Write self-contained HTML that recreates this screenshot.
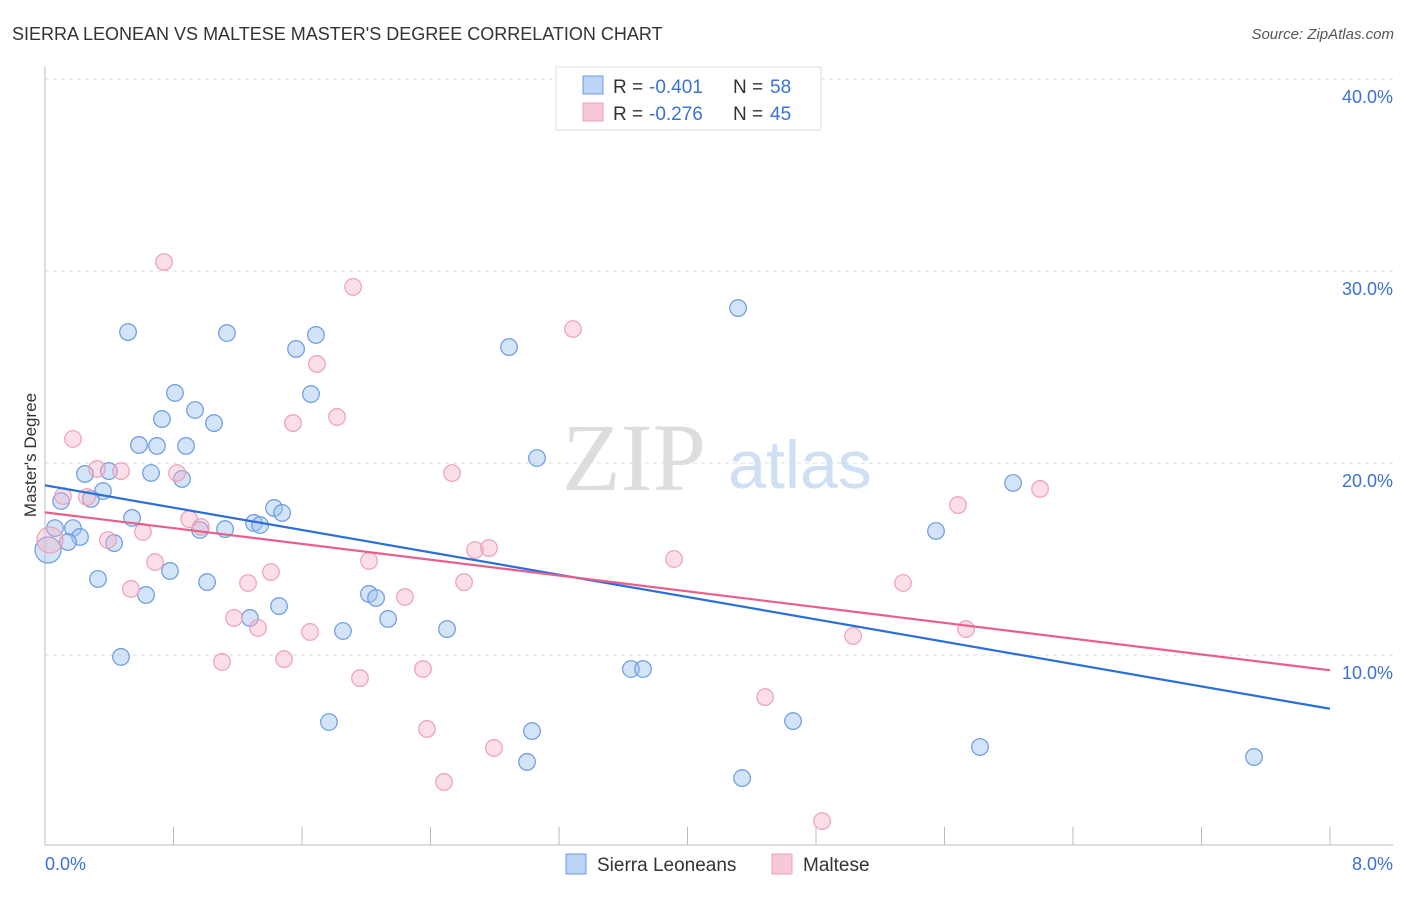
<!DOCTYPE html>
<html><head><meta charset="utf-8"><style>
body{margin:0;background:#fff;font-family:"Liberation Sans",sans-serif;}
</style></head><body>
<svg id="c" width="1406" height="892" xmlns="http://www.w3.org/2000/svg">
<text x="12" y="40" font-size="18" fill="#333">SIERRA LEONEAN VS MALTESE MASTER'S DEGREE CORRELATION CHART</text>
<text x="1394" y="39" font-size="15" fill="#555" text-anchor="end" font-style="italic">Source: ZipAtlas.com</text>
<text x="634" y="490" font-size="96" fill="#ddd" text-anchor="middle" font-family="Liberation Serif">ZIP</text>
<text x="800" y="488" font-size="68" fill="#cfe0f5" text-anchor="middle">atlas</text>
<g id="grid"></g><g id="pts"></g><g id="lines"></g>
<text x="36" y="455" font-size="17" fill="#333" text-anchor="middle" transform="rotate(-90 36 455)">Master's Degree</text>
<text x="45" y="870" font-size="18" fill="#3a72d8">0.0%</text>
<text x="1393" y="870" font-size="18" fill="#3a72d8" text-anchor="end">8.0%</text>
<g>
<rect x="556" y="67" width="265" height="63" fill="#fff" stroke="#ddd"/>
<rect x="583" y="76" width="20" height="18" fill="#bcd4f5" stroke="#6a9be0"/>
<rect x="583" y="103" width="20" height="18" fill="#f9c8d6" stroke="#eea0b8"/>
<text x="613" y="93" font-size="19" fill="#333">R =</text>
<text x="649" y="93" font-size="19" fill="#3a72d8">-0.401</text>
<text x="733" y="93" font-size="19" fill="#333">N =</text>
<text x="770" y="93" font-size="19" fill="#3a72d8">58</text>
<text x="613" y="120" font-size="19" fill="#333">R =</text>
<text x="649" y="120" font-size="19" fill="#3a72d8">-0.276</text>
<text x="733" y="120" font-size="19" fill="#333">N =</text>
<text x="770" y="120" font-size="19" fill="#3a72d8">45</text>
</g>
<g>
<rect x="566" y="854" width="20" height="20" fill="#bcd4f5" stroke="#6a9be0"/>
<text x="597" y="871" font-size="19" fill="#333">Sierra Leoneans</text>
<rect x="772" y="854" width="20" height="20" fill="#f9c8d6" stroke="#eea0b8"/>
<text x="803" y="871" font-size="19" fill="#333">Maltese</text>
</g>
</svg>
<script>
const yTicks=[10,20,30,40];
const xTicks=[0,0.8,1.6,2.4,3.2,4,4.8,5.6,6.4,7.2,8];
const blueX=[0.517,1.133,1.563,1.687,2.889,4.315,0.809,1.656,0.934,0.728,1.052,0.585,0.697,0.878,0.249,0.398,0.660,0.853,0.361,0.100,0.286,3.063,6.027,0.542,1.426,1.476,1.301,1.339,0.965,1.121,5.547,0.062,0.174,0.218,0.143,0.430,0.019,0.778,0.330,1.009,0.629,2.017,2.061,1.457,1.276,2.136,1.855,2.503,0.473,3.648,3.723,1.768,3.032,4.657,3.001,4.340,5.821,7.527];
const blueY=[26.82,26.77,25.94,26.67,26.04,28.07,23.65,23.59,22.76,22.29,22.08,20.94,20.89,20.89,19.43,19.58,19.48,19.17,18.54,18.02,18.13,20.26,18.96,17.14,17.66,17.40,16.88,16.77,16.51,16.56,16.46,16.61,16.61,16.15,15.89,15.83,15.47,14.38,13.96,13.80,13.13,13.18,12.97,12.55,11.93,11.88,11.25,11.35,9.90,9.27,9.27,6.51,6.04,6.56,4.43,3.59,5.21,4.69];
const pinkX=[0.741,1.918,3.287,1.693,1.544,1.818,0.174,0.324,0.473,0.822,2.534,0.112,0.261,5.684,6.195,0.897,0.971,0.610,0.392,2.677,2.764,3.916,0.685,2.017,1.407,1.264,2.609,5.342,0.535,2.241,1.177,1.326,1.650,5.734,5.031,1.102,1.488,2.353,1.961,4.483,2.378,2.795,2.484,4.838,0.031];
const pinkY=[30.47,29.17,26.98,25.16,22.08,22.40,21.25,19.69,19.58,19.48,19.48,18.28,18.23,17.81,18.65,17.08,16.67,16.41,15.99,15.47,15.57,15.00,14.84,14.90,14.32,13.75,13.80,13.75,13.44,13.02,11.93,11.41,11.20,11.35,10.99,9.64,9.79,9.27,8.80,7.81,6.15,5.16,3.39,1.35,15.99];
const big={blue:36,pink:44};
const NS="http://www.w3.org/2000/svg";
const X=v=>45+v/8*1285, Y=v=>847-v*19.2;
function mk(t,a,p){const e=document.createElementNS(NS,t);for(const k in a)e.setAttribute(k,a[k]);p.appendChild(e);return e;}
const grid=document.getElementById('grid');
yTicks.forEach(t=>{
 const l=mk('line',{x1:45,x2:1393,y1:Y(t),y2:Y(t),stroke:'#ddd','stroke-dasharray':'4,4'},grid);
 
 
 const tx=mk('text',{x:1393,y:Y(t)+24,'font-size':18,fill:'#3a72d8','text-anchor':'end'},grid);
 tx.textContent=t.toFixed(1)+'%';
 
 
});
const ax=mk('line',{x1:45,x2:1393,y1:845,y2:845,stroke:'#bbb'},grid);


const ay=mk('line',{x1:45,x2:45,y1:67,y2:845,stroke:'#bbb'},grid);


xTicks.forEach(t=>{
 const l=mk('line',{x1:X(t),x2:X(t),y1:827,y2:845,stroke:'#bbb'},grid);
 
 
});
const pts=document.getElementById('pts');
function series(xs,ys,fill,stroke,name,bi){
 xs.forEach((x,i)=>{
  const c=mk('circle',{cx:X(x),cy:Y(ys[i]),r:i===bi?13:8.3,fill:fill,stroke:stroke,'stroke-width':1.2},pts);
  
  
 });
}
series(blueX,blueY,'rgba(160,196,240,0.45)','#6a9be0','sierra',big.blue);
series(pinkX,pinkY,'rgba(245,175,198,0.4)','#eea0b8','maltese',big.pink);
function reg(xs,ys){const n=xs.length;let mx=0,my=0;xs.forEach((x,i)=>{mx+=x;my+=ys[i];});mx/=n;my/=n;let sxy=0,sxx=0;xs.forEach((x,i)=>{sxy+=(x-mx)*(ys[i]-my);sxx+=(x-mx)*(x-mx);});const b=sxy/sxx;return [my-b*mx,b];}
const lines=document.getElementById('lines');
[[blueX,blueY,'#2a6fd8','sierra-trendline'],[pinkX,pinkY,'#e8608a','maltese-trendline']].forEach(s=>{
 const [a,b]=reg(s[0],s[1]);
 const l=mk('line',{x1:X(0),y1:Y(a),x2:X(8),y2:Y(a+8*b),stroke:s[2],'stroke-width':2.2},lines);
 
 
});
</script>
</body></html>
